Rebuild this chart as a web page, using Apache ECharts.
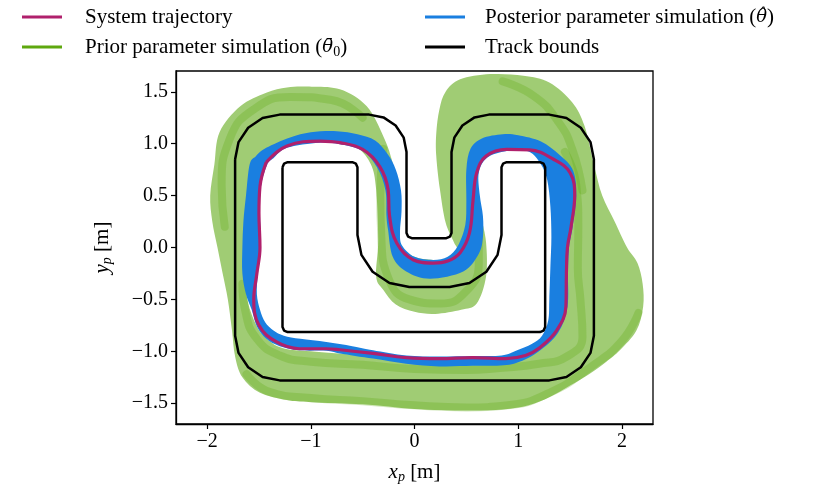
<!DOCTYPE html>
<html>
<head>
<meta charset="utf-8">
<script src="https://cdn.jsdelivr.net/npm/echarts@6/dist/echarts.min.js"></script>
<style>
  html, body { margin: 0; padding: 0; background: #fff; }
  #main { width: 829px; height: 495px; }
</style>
</head>
<body>
<div id="main"></div>
<script>
// tick positions
var xTickValues = [-2, -1, 0, 1, 2];
var yTickValues = [-1.5, -1.0, -0.5, 0.0, 0.5, 1.0, 1.5];

// track bounds (outer / inner edge)
var trackOuter = [
  [-1.73, 0.85], [-1.697, 1.015], [-1.604, 1.154], [-1.465, 1.247], [-1.30, 1.28],
  [-0.437, 1.28], [-0.299, 1.253], [-0.182, 1.175], [-0.104, 1.058], [-0.077, 0.92],
  [-0.077, 0.14], [-0.062, 0.105], [-0.027, 0.09],
  [0.307, 0.09], [0.342, 0.105], [0.357, 0.14],
  [0.357, 0.92], [0.384, 1.058], [0.462, 1.175], [0.579, 1.253], [0.717, 1.28],
  [1.30, 1.28], [1.465, 1.247], [1.604, 1.154], [1.697, 1.015], [1.73, 0.85],
  [1.73, -0.85], [1.697, -1.015], [1.604, -1.154], [1.465, -1.247], [1.30, -1.28],
  [-1.30, -1.28], [-1.465, -1.247], [-1.604, -1.154], [-1.697, -1.015], [-1.73, -0.85],
  [-1.73, 0.85]
];
var trackInner = [
  [-1.273, 0.772], [-1.258, 0.807], [-1.223, 0.822],
  [-0.60, 0.822], [-0.565, 0.807], [-0.55, 0.772],
  [-0.55, 0.12], [-0.512, -0.071], [-0.404, -0.234], [-0.241, -0.342], [-0.05, -0.38],
  [0.339, -0.38], [0.530, -0.342], [0.693, -0.234], [0.801, -0.071], [0.839, 0.12],
  [0.839, 0.772], [0.854, 0.807], [0.889, 0.822],
  [1.21, 0.822], [1.245, 0.807], [1.26, 0.772],
  [1.26, -0.765], [1.245, -0.80], [1.21, -0.815],
  [-1.223, -0.815], [-1.258, -0.80], [-1.273, -0.765],
  [-1.273, 0.772]
];

// system trajectory
var systemTraj = [
  [-1.43, 0.82], [-1.49, 0.59], [-1.50, 0.33], [-1.49, 0.0], [-1.52, -0.25],
  [-1.55, -0.50], [-1.50, -0.75], [-1.33, -0.91], [-1.11, -0.975], [-0.85, -0.975],
  [-0.72, -0.985], [-0.40, -1.02], [-0.08, -1.06], [0.24, -1.07], [0.56, -1.06],
  [0.88, -1.07], [1.07, -1.04], [1.20, -0.97], [1.37, -0.80], [1.46, -0.57],
  [1.465, -0.25], [1.475, 0.0], [1.51, 0.20], [1.545, 0.50], [1.50, 0.72],
  [1.34, 0.85], [1.11, 0.94], [0.89, 0.945], [0.69, 0.88], [0.60, 0.72],
  [0.565, 0.46], [0.53, 0.14], [0.44, -0.05], [0.32, -0.13], [0.18, -0.15],
  [-0.01, -0.12], [-0.17, 0.04], [-0.24, 0.30], [-0.255, 0.56], [-0.335, 0.78],
  [-0.50, 0.945], [-0.72, 1.01], [-0.91, 1.025], [-1.23, 0.977], [-1.43, 0.82]
];

// posterior simulation envelope
var posteriorOuter = [
  [-1.59, 0.80], [-1.625, 0.50], [-1.65, 0.25], [-1.66, 0.0], [-1.66, -0.25],
  [-1.625, -0.45], [-1.57, -0.60], [-1.52, -0.76], [-1.43, -0.88], [-1.30, -0.95],
  [-1.11, -0.99], [-0.85, -0.995], [-0.72, -1.02], [-0.40, -1.07], [-0.08, -1.12],
  [0.24, -1.145], [0.56, -1.14], [0.86, -1.135], [1.04, -1.09], [1.20, -1.0],
  [1.385, -0.82], [1.475, -0.57], [1.48, -0.25], [1.49, 0.0], [1.525, 0.20],
  [1.56, 0.50], [1.53, 0.74], [1.40, 0.89], [1.22, 1.02], [1.0, 1.08],
  [0.85, 1.09], [0.65, 1.05], [0.54, 0.95], [0.50, 0.75], [0.50, 0.45],
  [0.49, 0.22], [0.42, 0.02], [0.32, -0.09], [0.18, -0.12], [0.0, -0.09],
  [-0.12, 0.02], [-0.14, 0.15], [-0.125, 0.35], [-0.13, 0.55], [-0.18, 0.75],
  [-0.26, 0.90], [-0.38, 1.03], [-0.55, 1.09], [-0.75, 1.12], [-1.0, 1.11],
  [-1.2, 1.06], [-1.43, 0.96], [-1.53, 0.88]
];
var posteriorInner = [
  [-1.42, 0.80], [-1.48, 0.59], [-1.49, 0.33], [-1.48, 0.0], [-1.51, -0.25],
  [-1.52, -0.45], [-1.49, -0.60], [-1.44, -0.72], [-1.36, -0.80], [-1.26, -0.85],
  [-1.10, -0.88], [-0.85, -0.91], [-0.60, -0.95], [-0.40, -0.99], [-0.08, -1.04],
  [0.24, -1.05], [0.56, -1.045], [0.84, -1.04], [0.99, -0.99], [1.13, -0.93],
  [1.23, -0.85], [1.29, -0.70], [1.30, -0.50], [1.31, -0.20], [1.32, 0.10],
  [1.31, 0.40], [1.28, 0.65], [1.22, 0.80], [1.10, 0.925], [0.89, 0.93],
  [0.70, 0.865], [0.62, 0.72], [0.63, 0.50], [0.66, 0.30], [0.66, 0.10],
  [0.62, -0.06], [0.47, -0.23], [0.15, -0.30], [-0.08, -0.23], [-0.21, -0.09],
  [-0.255, 0.17], [-0.27, 0.30], [-0.28, 0.55], [-0.36, 0.77], [-0.50, 0.93],
  [-0.72, 0.995], [-0.92, 1.01], [-1.23, 0.96], [-1.36, 0.86]
];

// prior simulation envelope
var priorOuter = [
  [-1.93, 0.80], [-1.97, 0.50], [-1.95, 0.25], [-1.90, 0.0], [-1.85, -0.25],
  [-1.80, -0.50], [-1.76, -0.80], [-1.73, -1.05], [-1.66, -1.25], [-1.49, -1.40],
  [-1.23, -1.47], [-1.0, -1.49], [-0.5, -1.51], [0.0, -1.555], [0.5, -1.57],
  [0.85, -1.56], [1.1, -1.52], [1.305, -1.44], [1.50, -1.33], [1.69, -1.215],
  [1.85, -1.10], [1.98, -0.99], [2.14, -0.80], [2.205, -0.57], [2.20, -0.35],
  [2.15, -0.15], [2.05, 0.0], [1.93, 0.25], [1.81, 0.50], [1.73, 0.80],
  [1.64, 1.17], [1.52, 1.40], [1.30, 1.59], [1.05, 1.655], [0.73, 1.67],
  [0.44, 1.62], [0.30, 1.50], [0.24, 1.33], [0.21, 1.10], [0.21, 0.88],
  [0.245, 0.56], [0.30, 0.24], [0.38, 0.05], [0.42, -0.04], [0.32, -0.11],
  [0.18, -0.12], [0.0, -0.09], [-0.13, 0.02], [-0.16, 0.20], [-0.16, 0.40],
  [-0.17, 0.60], [-0.22, 0.85], [-0.30, 1.07], [-0.46, 1.36], [-0.72, 1.525],
  [-1.04, 1.55], [-1.23, 1.54], [-1.43, 1.49], [-1.68, 1.36], [-1.88, 1.11]
];
var priorInner = [
  [-1.57, 0.80], [-1.60, 0.50], [-1.62, 0.0], [-1.62, -0.45], [-1.52, -0.76],
  [-1.40, -0.90], [-1.25, -0.975], [-1.0, -1.0], [-0.5, -1.04], [0.0, -1.08],
  [0.5, -1.08], [0.9, -1.07], [1.15, -0.99], [1.35, -0.82], [1.45, -0.60],
  [1.46, -0.30], [1.47, 0.0], [1.51, 0.30], [1.53, 0.55], [1.48, 0.75],
  [1.35, 0.90], [1.15, 1.0], [0.9, 1.02], [0.70, 0.98], [0.60, 0.85],
  [0.59, 0.55], [0.64, 0.30], [0.69, 0.05], [0.69, -0.28], [0.60, -0.54],
  [0.45, -0.60], [0.20, -0.64], [0.0, -0.62], [-0.18, -0.55], [-0.30, -0.41],
  [-0.37, -0.28], [-0.35, 0.07], [-0.37, 0.56], [-0.42, 0.80], [-0.55, 0.96],
  [-0.75, 1.04], [-1.0, 1.07], [-1.25, 1.02], [-1.45, 0.92]
];

// darker streaks inside the prior band (dense bundles of runs)
var priorStreaks = [
  [[-1.66, -0.35], [-1.63, -0.62], [-1.52, -0.88], [-1.30, -1.04], [-1.0, -1.10],
   [-0.5, -1.13], [0.0, -1.17], [0.5, -1.18], [0.82, -1.16], [1.20, -1.12],
   [1.47, -1.05], [1.62, -0.86], [1.60, -0.50], [1.575, -0.20], [1.58, 0.20],
   [1.56, 0.60], [1.45, 0.92]],
  [[-1.62, -1.22], [-1.40, -1.39], [-1.0, -1.45], [-0.5, -1.48], [0.0, -1.52],
   [0.5, -1.54], [0.9, -1.52], [1.3, -1.40], [1.70, -1.15], [2.0, -0.90], [2.16, -0.63]],
  [[0.85, 1.60], [1.15, 1.46], [1.38, 1.22], [1.52, 0.95], [1.62, 0.55]],
  [[-0.30, 0.95], [-0.33, 0.50], [-0.32, 0.10], [-0.25, -0.30], [-0.05, -0.50],
   [0.25, -0.54], [0.50, -0.42], [0.62, -0.15], [0.62, 0.15]],
  [[-1.83, 0.20], [-1.86, 0.60], [-1.78, 1.05], [-1.55, 1.33], [-1.20, 1.45], [-0.80, 1.42], [-0.50, 1.25]]
];

var FONT = 'Liberation Serif';
var magenta = '#b0206c';
var blue = '#1a7fe0';
var green = '#5ea80e';
var greenFill = '#a0cc74';

// closed Catmull-Rom curve through pixel points
function closedCurve(pts) {
  var n = pts.length;
  var d = 'M' + pts[0][0] + ' ' + pts[0][1];
  for (var i = 0; i < n; i++) {
    var p0 = pts[(i - 1 + n) % n], p1 = pts[i], p2 = pts[(i + 1) % n], p3 = pts[(i + 2) % n];
    var c1x = p1[0] + (p2[0] - p0[0]) / 6, c1y = p1[1] + (p2[1] - p0[1]) / 6;
    var c2x = p2[0] - (p3[0] - p1[0]) / 6, c2y = p2[1] - (p3[1] - p1[1]) / 6;
    d += 'C' + c1x + ' ' + c1y + ' ' + c2x + ' ' + c2y + ' ' + p2[0] + ' ' + p2[1];
  }
  return d + 'Z';
}
function signedArea(pts) {
  var a = 0;
  for (var i = 0; i < pts.length; i++) {
    var p = pts[i], q = pts[(i + 1) % pts.length];
    a += p[0] * q[1] - q[0] * p[1];
  }
  return a;
}
// ring between two loops
function bandRenderer(outer, inner, fill) {
  return function (params, api) {
    var o = outer.map(function (p) { return api.coord(p); });
    var i = inner.map(function (p) { return api.coord(p); });
    if (signedArea(o) * signedArea(i) > 0) i = i.slice().reverse();
    return {
      type: 'path',
      shape: { pathData: closedCurve(o) + closedCurve(i) },
      style: { fill: fill }
    };
  };
}

var minus = function (s) { return String(s).replace('-', '\u2212'); };
var textRich = {
  i: { fontFamily: FONT, fontSize: 21, fontStyle: 'italic', color: '#000', lineHeight: 24, verticalAlign: 'middle' },
  th: { fontFamily: 'DejaVu Serif', fontSize: 18, fontStyle: 'italic', color: '#000', lineHeight: 24, verticalAlign: 'middle' },
  s: { fontFamily: FONT, fontSize: 14, fontStyle: 'italic', color: '#000', lineHeight: 14, verticalAlign: 'bottom' },
  n: { fontFamily: FONT, fontSize: 14, color: '#000', lineHeight: 14, verticalAlign: 'bottom' }
};
var legendText = { fontFamily: FONT, fontSize: 21, color: '#000', lineHeight: 24, rich: textRich };

var streakSeries = priorStreaks.map(function (pts) {
  return {
    name: 'Prior parameter simulation', type: 'line', z: 1, smooth: 0.5, symbol: 'none',
    lineStyle: { color: green, width: 8, opacity: 0.28, cap: 'round' }, itemStyle: { color: green },
    data: pts
  };
});

var chart = echarts.init(document.getElementById('main'));
chart.setOption({
  backgroundColor: '#fff',
  animation: false,
  grid: { left: 176, right: 176, top: 71, bottom: 71, show: true, borderColor: '#000', borderWidth: 1.3 },
  legend: [{
    left: 22, top: 5, padding: 0, orient: 'vertical', itemGap: 6, itemWidth: 40, itemHeight: 3,
    icon: 'rect', selectedMode: false,
    textStyle: Object.assign({ padding: [0, 0, 0, 18] }, legendText),
    formatter: function (name) {
      if (name.indexOf('Prior') === 0) return 'Prior parameter simulation ({th|\u03B8\u0304}{n|0})';
      return name;
    },
    data: [
      { name: 'System trajectory' },
      { name: 'Prior parameter simulation', itemStyle: { color: green } }
    ]
  }, {
    left: 425, top: 5, padding: 0, orient: 'vertical', itemGap: 6, itemWidth: 40, itemHeight: 3,
    icon: 'rect', selectedMode: false,
    textStyle: Object.assign({ padding: [0, 0, 0, 15] }, legendText),
    formatter: function (name) {
      if (name.indexOf('Posterior') === 0) return 'Posterior parameter simulation ({th|\u03B8\u0302})';
      return name;
    },
    data: [
      { name: 'Posterior parameter simulation', itemStyle: { color: blue } },
      { name: 'Track bounds' }
    ]
  }],
  xAxis: {
    type: 'value', min: -2.3, max: 2.3,
    name: '{i|x}{s|p}{t| [m]}', nameLocation: 'middle', nameGap: 36,
    nameTextStyle: { rich: Object.assign({ t: { fontFamily: FONT, fontSize: 21, color: '#000', lineHeight: 24, verticalAlign: 'middle' } }, textRich) },
    axisLine: { show: true, onZero: false, lineStyle: { color: '#000', width: 1.3 } },
    axisTick: { show: true, length: 5, lineStyle: { color: '#000', width: 1.2 }, customValues: xTickValues },
    axisLabel: { fontFamily: FONT, fontSize: 20, color: '#000', margin: 8, customValues: xTickValues, formatter: minus },
    splitLine: { show: false }
  },
  yAxis: {
    type: 'value', min: -1.7, max: 1.7,
    name: '{i|y}{s|p}{t| [m]}', nameLocation: 'middle', nameGap: 62, nameRotate: 90,
    nameTextStyle: { rich: Object.assign({ t: { fontFamily: FONT, fontSize: 21, color: '#000', lineHeight: 24, verticalAlign: 'middle' } }, textRich) },
    axisLine: { show: true, onZero: false, lineStyle: { color: '#000', width: 1.3 } },
    axisTick: { show: true, length: 5, lineStyle: { color: '#000', width: 1.2 }, customValues: yTickValues },
    axisLabel: { fontFamily: FONT, fontSize: 20, color: '#000', margin: 8, customValues: yTickValues,
      formatter: function (v) { return minus(Number(v).toFixed(1)); } },
    splitLine: { show: false }
  },
  series: [
    {
      name: 'Prior parameter simulation', type: 'custom', z: 1, clip: true,
      itemStyle: { color: green },
      renderItem: bandRenderer(priorOuter, priorInner, greenFill),
      data: [[0, 0]], encode: { x: 0, y: 1 }
    }
  ].concat(streakSeries).concat([
    {
      name: 'Posterior parameter simulation', type: 'custom', z: 2, clip: true,
      itemStyle: { color: blue },
      renderItem: bandRenderer(posteriorOuter, posteriorInner, blue),
      data: [[0, 0]], encode: { x: 0, y: 1 }
    },
    {
      name: 'System trajectory', type: 'line', z: 3, smooth: 0.4, symbol: 'none',
      lineStyle: { color: magenta, width: 3.2 }, itemStyle: { color: magenta },
      data: systemTraj
    },
    {
      name: 'Track bounds', type: 'line', z: 4, symbol: 'none',
      lineStyle: { color: '#000', width: 2.5 }, itemStyle: { color: '#000' },
      data: trackOuter
    },
    {
      name: 'Track bounds', type: 'line', z: 4, symbol: 'none',
      lineStyle: { color: '#000', width: 2.5 }, itemStyle: { color: '#000' },
      data: trackInner
    }
  ])
});
</script>
</body>
</html>
